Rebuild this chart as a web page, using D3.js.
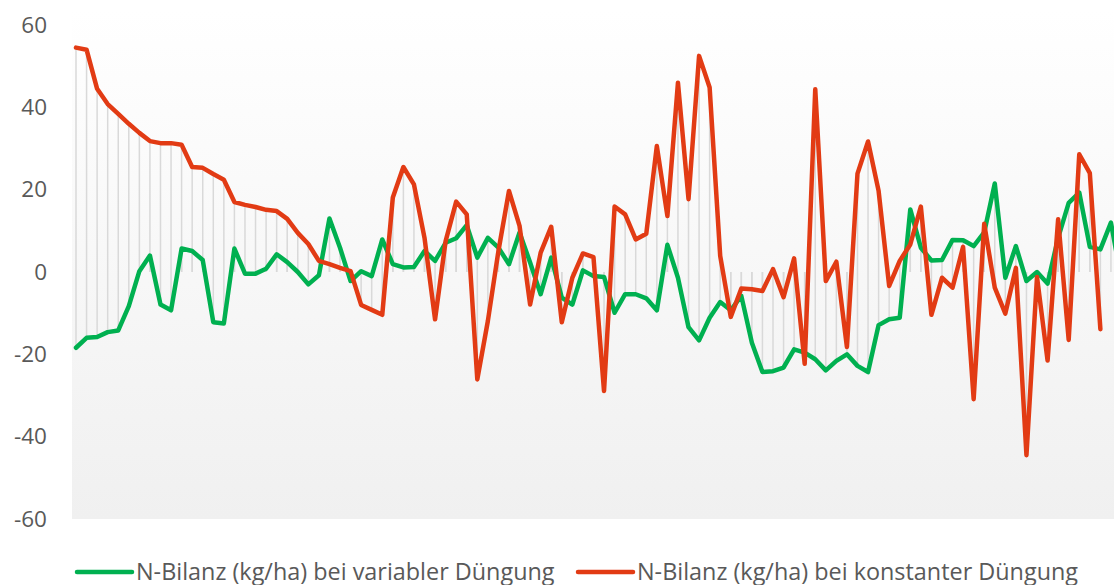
<!DOCTYPE html>
<html>
<head>
<meta charset="utf-8">
<script src="https://cdn.jsdelivr.net/npm/d3@7"></script>
<style>
  body { margin: 0; background: #fff; }
  svg { display: block; font-family: "Open Sans", sans-serif; }
</style>
</head>
<body>
<svg width="1114" height="585"></svg>
<script>
// N-Bilanz je Teilfläche
var categories = d3.range(1, 101);

var variabel = [
  -18.4, -16.0, -15.8, -14.6, -14.2, -8.3, 0.2, 4.0, -7.9, -9.3,
  5.7, 5.1, 2.9, -12.2, -12.5, 5.7, -0.4, -0.4, 0.8, 4.3,
  2.4, 0, -3.0, -0.8, 13.0, 5.9, -2.2, 0.2, -1.0, 7.9,
  1.9, 1.1, 1.2, 5.1, 2.7, 7.1, 8.2, 11.4, 3.5, 8.3,
  5.9, 1.9, 9.6, 2.3, -5.4, 3.5, -6.2, -7.9, 0.4, -1.0,
  -1.2, -9.9, -5.4, -5.4, -6.4, -9.3, 6.6, -1.4, -13.4, -16.6,
  -11.1, -7.3, -9.3, -5.8, -17.2, -24.3, -24.1, -23.2, -18.8, -19.6,
  -21.2, -23.9, -21.6, -20.0, -22.8, -24.3, -12.9, -11.5, -11.1, 15.2,
  5.9, 2.8, 2.9, 7.8, 7.7, 6.3, 9.6, 21.5, -1.4, 6.3,
  -2.2, 0, -2.8, 8.3, 16.8, 19.3, 6.1, 5.5, 12.0, -2.0
];

var konstant = [
  54.5, 54.0, 44.5, 40.8, 38.4, 36.0, 33.8, 31.8, 31.3, 31.3,
  30.9, 25.5, 25.3, 23.8, 22.4, 17.0, 16.3, 15.8, 15.1, 14.8,
  12.9, 9.5, 6.8, 2.7, 1.9, 1.0, 0.2, -8.0, -9.2, -10.4,
  18.1, 25.5, 21.3, 8.3, -11.5, 7.5, 17.1, 14.0, -26.1, -11.9,
  5.1, 19.7, 11.2, -7.9, 4.7, 11.0, -12.2, -1.4, 4.5, 3.6,
  -28.9, 15.9, 14.0, 7.9, 9.3, 30.6, 13.6, 46.0, 17.7, 52.5,
  44.8, 3.9, -10.9, -4.0, -4.2, -4.6, 0.7, -6.1, 3.3, -22.3,
  44.4, -2.2, 2.5, -18.2, 23.9, 31.7, 19.7, -3.4, 2.7, 6.7,
  15.9, -10.4, -1.4, -3.8, 6.1, -30.9, 11.7, -3.8, -10.1, 1.0,
  -44.5, -1.2, -21.5, 12.8, -16.5, 28.6, 24.0, -13.9, null, null
];

var yTicks = [-60, -40, -20, 0, 20, 40, 60];
var seriesNames = ['N-Bilanz (kg/ha) bei variabler Düngung', 'N-Bilanz (kg/ha) bei konstanter Düngung'];
var seriesColors = ['#00b050', '#e23b14'];

var width = 1114, height = 585;
var plot = {left: 72, right: 1114, top: 25, bottom: 519};

var svg = d3.select('svg');

var x = d3.scalePoint()
  .domain(categories)
  .range([76, 1121.5]);

var y = d3.scaleLinear()
  .domain([-60, 60])
  .range([plot.bottom, plot.top]);

// plot area with soft gradient
var grad = svg.append('defs').append('linearGradient')
  .attr('id', 'bg')
  .attr('x1', 0).attr('y1', 0).attr('x2', 0).attr('y2', 1);
grad.append('stop').attr('offset', '0%').attr('stop-color', '#ffffff');
grad.append('stop').attr('offset', '100%').attr('stop-color', '#f0f0f0');

svg.append('rect')
  .attr('x', plot.left)
  .attr('y', 10)
  .attr('width', plot.right - plot.left)
  .attr('height', plot.bottom - 10)
  .attr('fill', 'url(#bg)');

var series = [variabel, konstant];

// drop lines to zero
series.forEach(function(vals) {
  svg.append('g')
    .selectAll('line')
    .data(categories.filter(function(c, i) { return vals[i] != null; }))
    .enter()
    .append('line')
      .attr('x1', d => x(d))
      .attr('x2', d => x(d))
      .attr('y1', d => y(vals[d - 1]))
      .attr('y2', y(0))
      .attr('stroke', '#d9d9d9')
      .attr('stroke-width', 1.5);
});

var line = d3.line()
  .defined(d => d.v != null)
  .x(d => x(d.c))
  .y(d => y(d.v));

series.forEach(function(vals, k) {
  svg.append('path')
    .datum(categories.map((c, i) => ({c: c, v: vals[i]})))
    .attr('fill', 'none')
    .attr('stroke', seriesColors[k])
    .attr('stroke-width', 4.5)
    .attr('stroke-linejoin', 'round')
    .attr('stroke-linecap', 'round')
    .attr('d', line);
});

// y axis, labels only
var yAxis = svg.append('g')
  .attr('transform', 'translate(' + plot.left + ',0)')
  .call(d3.axisLeft(y).tickValues(yTicks).tickFormat(d => String(d)).tickSize(0).tickPadding(25));
yAxis.select('.domain').remove();
yAxis.selectAll('text')
  .style('font-family', '"Open Sans", sans-serif')
  .style('font-size', '22.5px')
  .attr('fill', '#595959');

// legend
var legendX = [77, 578];
var leg = svg.append('g');
seriesNames.forEach(function(name, k) {
  leg.append('line')
    .attr('x1', legendX[k]).attr('x2', legendX[k] + 55)
    .attr('y1', 572).attr('y2', 572)
    .attr('stroke', seriesColors[k])
    .attr('stroke-width', 4.5)
    .attr('stroke-linecap', 'round');
  leg.append('text')
    .attr('x', legendX[k] + 59)
    .attr('y', 572)
    .attr('dy', '0.35em')
    .style('font-size', '23.4px')
    .attr('fill', '#595959')
    .text(name);
});
</script>
</body>
</html>
